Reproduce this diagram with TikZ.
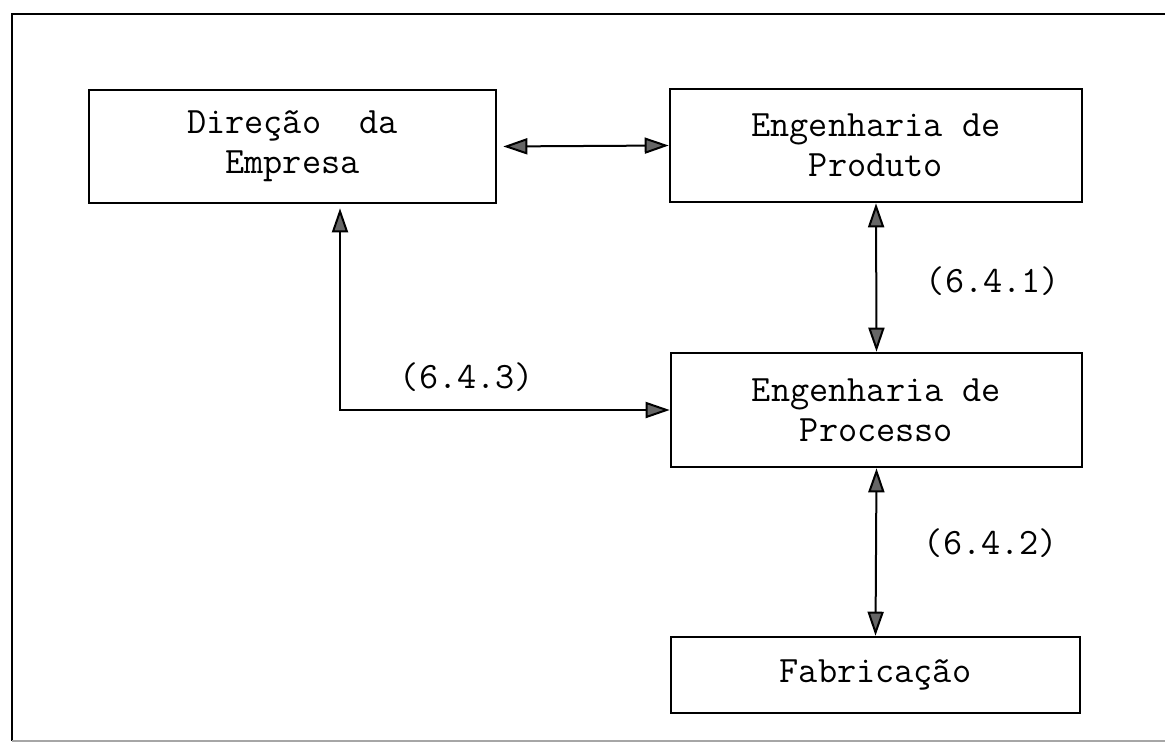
\documentclass[tikz,border=0pt]{standalone}
\usepackage{fontspec}
\usetikzlibrary{arrows.meta}
\tikzset{
  blockbox/.style={draw=black, line width=1.3pt, align=center, inner sep=0pt,
    font=\fontsize{18.6}{20}\selectfont\ttfamily},
  lbl/.style={inner sep=0pt, font=\fontsize{18.6}{20}\selectfont\ttfamily},
  tipshape/.style={},
  link/.style={line width=1pt,
    {Triangle[length=12pt,width=8pt,fill=black!60]}-{Triangle[length=12pt,width=8pt,fill=black!60]}},
  frameline/.style={line width=1.4pt}
}
\begin{document}
\begin{tikzpicture}[x=0.5pt,y=-0.5pt]
\useasboundingbox (0,0) rectangle (1165,744);
% outer frame (right side lies outside the picture)
\draw[frameline] (1165,14) -- (12,14) -- (12,741);
\draw[line width=0.6pt, black!35] (12,741) -- (1165,741);
% blocks
\node[blockbox, minimum width=203.5pt, minimum height=56.5pt] (dir) at (292.5,146.5)
  {Direção\ \ da\\Empresa};
\node[blockbox, minimum width=206pt, minimum height=56.5pt] (prod) at (876,145.5)
  {Engenharia de\\Produto};
\node[blockbox, minimum width=205.5pt, minimum height=57pt] (proc) at (876.5,410)
  {Engenharia de\\Processo};
\node[blockbox, minimum width=204.5pt, minimum height=38pt] (fab) at (875.5,675)
  {Fabricação};
% connectors
\coordinate (corner) at (340,410);
\draw[link, shorten <=3pt] (dir.east) -- (prod.west);
\draw[link] (prod.south) -- (proc.north);
\draw[link] (proc.south) -- (fab.north);
\draw[link, shorten <=2pt] (dir.south -| corner) -- (corner) -- (proc.west);
% labels
\node[lbl] (l641) at (993,281) {(6.4.1)};
\node[lbl] (l643) at (467,377) {(6.4.3)};
\node[lbl] (l642) at (991,543) {(6.4.2)};
\end{tikzpicture}
\end{document}
